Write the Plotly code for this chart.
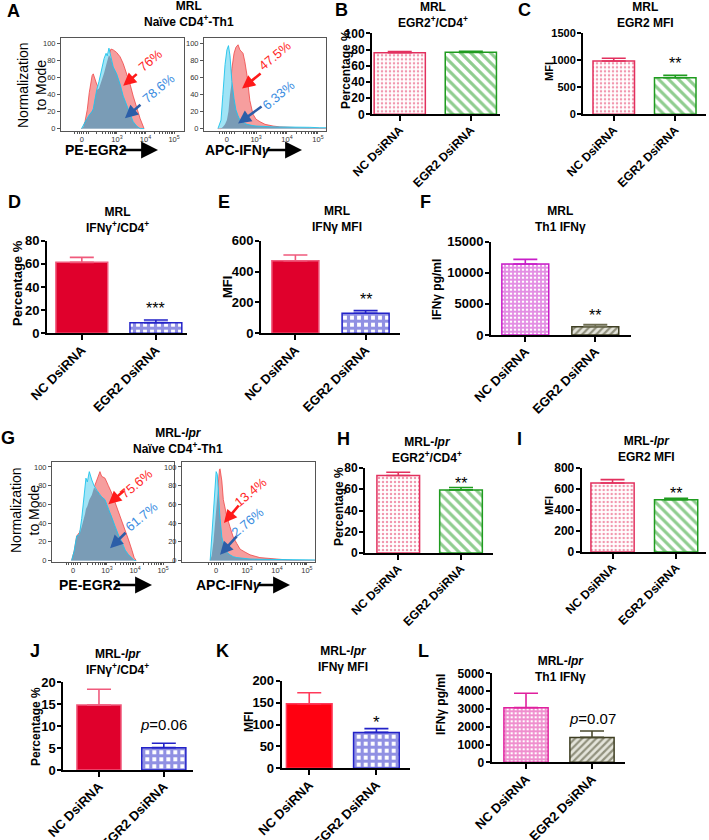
import numpy as np
import plotly.graph_objects as go

W, H = 709, 840

groups = ["NC DsiRNA", "EGR2 DsiRNA"]

# ---------------- bar data (mean, upper error) ----------------
b_mean = [76.1, 76.5];   b_err = [1.3, 1.3]
c_mean = [988, 679];     c_err = [49, 43]
d_mean = [61.3, 9.2];    d_err = [4.3, 2.3]
e_mean = [470, 130];     e_err = [37, 17]
f_mean = [11410, 1340];  f_err = [750, 320]
h_mean = [73.0, 59.4];   h_err = [3.0, 2.3]
i_mean = [657, 498];     i_err = [32, 13]
j_mean = [14.8, 5.1];    j_err = [3.6, 1.0]
k_mean = [147.5, 82.0];  k_err = [25, 8.5]
l_mean = [3070, 1400];   l_err = [810, 360]

# ---------------- flow histograms (display units, % of mode) ----------------
a_egr2_x = [1.76, 1.82, 1.88, 1.96, 2.03, 2.08, 2.13, 2.17, 2.23, 2.29, 2.37, 2.46, 2.55, 2.62,
            2.66, 2.72, 2.79, 2.87, 2.99, 3.11, 3.22, 3.34, 3.46, 3.57, 3.69, 3.81, 3.95]
a_egr2_nc = [0, 2, 8, 22, 42, 55, 62, 64, 58, 52, 47, 55, 65, 74, 80, 86, 93, 92, 89, 84, 76, 64,
             52, 38, 25, 12, 0]
a_egr2_kd = [0, 4, 8, 12, 16, 18, 20, 23, 35, 45, 55, 70, 82, 88, 85, 94, 82, 72, 64, 52, 38, 28,
             18, 8, 3, 0, 0]

a_ifng_x = [1.77, 1.87, 1.93, 2.00, 2.06, 2.11, 2.16, 2.22, 2.29, 2.35, 2.42, 2.48, 2.58, 2.64,
            2.71, 2.80, 2.90, 3.00, 3.13, 3.29, 3.55, 3.77, 4.09, 4.42, 4.74, 5.06, 5.26]
a_ifng_nc = [0, 0, 2, 5, 10, 20, 40, 70, 88, 95, 98, 92, 88, 78, 62, 33, 17, 11, 8, 5, 3, 2, 1.5,
             1, 0.5, 0.3, 0]
a_ifng_kd = [0, 10, 40, 75, 92, 97, 85, 55, 35, 22, 15, 10, 8, 6, 5, 4, 3.5, 3, 3, 2.5, 2, 2, 2,
             1.5, 1.5, 1, 1]

g_egr2_x = [1.74, 1.83, 1.92, 2.02, 2.10, 2.16, 2.22, 2.25, 2.30, 2.37, 2.46, 2.54, 2.64, 2.71,
            2.75, 2.81, 2.93, 3.05, 3.17, 3.29, 3.41, 3.53, 3.65, 3.77, 3.89, 3.97, 4.04]
g_egr2_nc = [0, 10, 26, 30, 36, 42, 50, 55, 58, 65, 70, 78, 86, 92, 95, 90, 88, 80, 72, 62, 52,
             44, 34, 22, 11, 3, 0]
g_egr2_kd = [0, 10, 26, 28, 45, 65, 82, 88, 84, 95, 86, 80, 75, 72, 70, 68, 65, 55, 47, 36, 27,
             20, 11, 6, 2, 0, 0]

g_ifng_x = [1.77, 1.82, 1.88, 1.93, 1.97, 2.01, 2.04, 2.08, 2.10, 2.16, 2.21, 2.27, 2.32, 2.43,
            2.54, 2.66, 2.77, 2.93, 3.10, 3.43, 3.87, 4.20, 4.53, 4.93, 5.27]
g_ifng_nc = [0, 5, 20, 40, 55, 75, 90, 97, 98, 85, 65, 55, 48, 36, 25, 18, 12, 9, 6, 3, 1.5, 0.5,
             0, 0, 0]
g_ifng_kd = [0, 25, 60, 85, 95, 92, 80, 55, 45, 25, 18, 12, 9, 6, 4, 3, 2.5, 2, 1.5, 1.2, 1, 1, 1,
             0.5, 0.5]

hist_ticktext = ["0", "10<sup>3</sup>", "10<sup>4</sup>", "10<sup>5</sup>"]

FONT = "Arial, Liberation Sans, sans-serif"
RED_FILL = "rgb(246,158,158)"
RED_LINE = "rgb(240,70,70)"
CYAN_FILL = "rgb(160,228,246)"
CYAN_LINE = "rgb(30,195,235)"
OV_FILL = "rgb(122,156,182)"
PCT_RED = "#ff2626"
PCT_BLUE = "#3b8ddf"
ARR_RED = "#ff1a1a"
ARR_BLUE = "#2c5ea8"

fig = go.Figure()
layout = dict(width=W, height=H, margin=dict(l=0, r=0, t=0, b=0, pad=0, autoexpand=False),
              paper_bgcolor="white", plot_bgcolor="white", showlegend=False,
              barmode="overlay", font=dict(family=FONT, color="black"))
annotations = []
counter = [0]


def xdom(a, b):
    return [a / W, b / W]


def ydom(top, bot):
    return [1 - bot / H, 1 - top / H]


def new_axes():
    counter[0] += 1
    n = counter[0]
    s = "" if n == 1 else str(n)
    return "xaxis" + s, "yaxis" + s, "x" + s, "y" + s


def text(xp, yp, s, size, bold=True, angle=0, xanchor="center", color="black"):
    annotations.append(dict(x=xp / W, y=1 - yp / H, xref="paper", yref="paper", text=s,
                            showarrow=False, textangle=angle, xanchor=xanchor, yanchor="middle",
                            borderpad=0,
                            font=dict(size=size, family=FONT, color=color,
                                      weight="bold" if bold else "normal")))


def label_arrow(x0, x1, yp):
    annotations.append(dict(x=x1 / W, y=1 - yp / H, xref="paper", yref="paper", text="",
                            showarrow=True, ax=x0 - x1, ay=0, axref="pixel", ayref="pixel",
                            arrowhead=2, arrowsize=1.3, arrowwidth=2.6, arrowcolor="black",
                            standoff=0, startstandoff=0))


def histogram(xp, yp, xr, yr, zero, xs, nc, kd, pcts):
    xa, ya, xref, yref = new_axes()
    nc = np.array(nc, dtype=float)
    kd = np.array(kd, dtype=float)
    ov = np.minimum(nc, kd)
    fig.add_trace(go.Scatter(x=xs, y=nc, mode="lines", fill="tozeroy", fillcolor=RED_FILL,
                             line=dict(color=RED_LINE, width=0.8), xaxis=xref, yaxis=yref,
                             hoverinfo="skip"))
    fig.add_trace(go.Scatter(x=xs, y=kd, mode="lines", fill="tozeroy", fillcolor=CYAN_FILL,
                             line=dict(width=0), xaxis=xref, yaxis=yref, hoverinfo="skip"))
    fig.add_trace(go.Scatter(x=xs, y=ov, mode="lines", fill="tozeroy", fillcolor=OV_FILL,
                             line=dict(width=0), xaxis=xref, yaxis=yref, hoverinfo="skip"))
    fig.add_trace(go.Scatter(x=xs, y=kd, mode="lines", line=dict(color=CYAN_LINE, width=0.9),
                             xaxis=xref, yaxis=yref, hoverinfo="skip"))
    minor = [zero - 0.25, zero - 0.15, zero - 0.07, zero + 0.07, zero + 0.15, zero + 0.25]
    for dec in (2, 3, 4):
        for k in range(2, 10):
            v = dec + np.log10(k)
            if v > zero + 0.45 and v < xr[1]:
                minor.append(float(v))
    layout[xa] = dict(domain=xdom(*xp), range=xr, anchor=yref, showline=True, mirror=True,
                      linecolor="#555", linewidth=1, ticks="outside", ticklen=2, tickcolor="#555",
                      tickvals=[zero, 3, 4, 5], ticktext=hist_ticktext, ticklabelstandoff=-1,
                      tickfont=dict(size=7.5, color="#333", family=FONT),
                      minor=dict(tickvals=minor, ticklen=2, tickcolor="#555", ticks="outside"),
                      showgrid=False, zeroline=False, automargin=False)
    layout[ya] = dict(domain=ydom(*yp), range=yr, anchor=xref, showline=True, mirror=True,
                      linecolor="#555", linewidth=1, ticks="outside", ticklen=3, tickcolor="#555",
                      tickvals=[0, 20, 40, 60, 80, 100],
                      tickfont=dict(size=7.5, color="#333", family=FONT),
                      showgrid=False, zeroline=False, automargin=False)
    for (s, col, acol, tx, ty, hx, hy, ox, oy) in pcts:
        annotations.append(dict(x=tx, y=ty, xref=xref, yref=yref, text=s, showarrow=False,
                                textangle=-40, font=dict(size=13, color=col, family=FONT)))
        annotations.append(dict(x=hx, y=hy, xref=xref, yref=yref, text="", showarrow=True,
                                ax=ox, ay=oy, axref="pixel", ayref="pixel", arrowhead=2,
                                arrowsize=1.0, arrowwidth=2.6, arrowcolor=acol, standoff=0))


def bar_panel(xp, yp, xr, ymax, dtick, means, errs, styles, errcolors, width, tsize, xsize,
              mark=None):
    xa, ya, xref, yref = new_axes()
    for i in range(2):
        fig.add_trace(go.Bar(x=[i], y=[means[i]], width=width, marker=styles[i],
                             error_y=dict(type="data", symmetric=False, array=[errs[i]],
                                          arrayminus=[0], color=errcolors[i], thickness=1.6,
                                          width=12),
                             xaxis=xref, yaxis=yref, hoverinfo="skip"))
    layout[xa] = dict(domain=xdom(*xp), range=xr, anchor=yref, showline=True, linecolor="black",
                      linewidth=2, ticks="outside", ticklen=5, tickwidth=1.5, tickcolor="black",
                      tickvals=[0, 1], ticktext=groups, tickangle=-45, ticklabelstandoff=-3,
                      tickfont=dict(size=xsize, family=FONT, weight="bold"),
                      showgrid=False, zeroline=False, automargin=False)
    layout[ya] = dict(domain=ydom(*yp), range=[0, ymax], anchor=xref, showline=True,
                      linecolor="black", linewidth=2, ticks="outside", ticklen=4, tickwidth=2,
                      tickcolor="black", dtick=dtick, tickformat="d", ticklabelstandoff=-1,
                      tickfont=dict(size=tsize, family=FONT, weight="bold"),
                      showgrid=False, zeroline=False, automargin=False)
    if mark:
        s, yv, fs, ysh = mark
        annotations.append(dict(x=1, y=yv, xref=xref, yref=yref, text=s, showarrow=False,
                                yshift=ysh, font=dict(size=fs, family=FONT, color="black")))


def dots(c):
    return dict(color="white", line=dict(color=c, width=1.5),
                pattern=dict(shape=".", fgcolor=c, bgcolor="white", size=4, solidity=0.3))


def hatch(c, shape="\\", bg="white", size=7, sol=0.45):
    return dict(color=bg, line=dict(color=c, width=1.5),
                pattern=dict(shape=shape, fgcolor=c, bgcolor=bg, size=size, solidity=sol))


def solid(c, lc):
    return dict(color=c, line=dict(color=lc, width=1.5))


def checks(c, size, sol=0.7):
    return dict(color="white", line=dict(color=c, width=1.5),
                pattern=dict(shape="+", fgcolor=c, bgcolor="white", size=size, solidity=sol))


PINK = "#e2305e"
GREEN = "#1f9c1f"
CRIMSON = "#e0002c"
CRIM_LINE = "#f05a7c"
BLUE = "#2222c8"
MAGENTA = "#c81ec8"
MAGENTA2 = "#e0209e"
OLIVE = "#3e3e22"

# ---------------- histograms ----------------
histogram((61, 184), (38, 131), [1.04, 5.35], [-2.8, 105.9], 1.77, a_egr2_x, a_egr2_nc, a_egr2_kd,
          [("76%", PCT_RED, ARR_RED, 4.16, 80, 3.22, 50, 15, -13),
           ("78.6%", PCT_BLUE, ARR_BLUE, 4.45, 47, 3.28, 12, 17, -15)])
histogram((204, 326), (38, 131), [1.32, 5.26], [-2.8, 105.9], 2.06, a_ifng_x, a_ifng_nc, a_ifng_kd,
          [("47.5%", PCT_RED, ARR_RED, 3.61, 86, 2.55, 47, 20, -16),
           ("6.33%", PCT_BLUE, ARR_BLUE, 3.71, 39, 2.42, 6, 25, -18)])
histogram((52, 174), (462, 562), [1.04, 5.39], [-1.7, 105.3], 1.79, g_egr2_x, g_egr2_nc, g_egr2_kd,
          [("75.6%", PCT_RED, ARR_RED, 4.06, 82, 3.05, 60, 17, -15),
           ("61.7%", PCT_BLUE, ARR_BLUE, 4.24, 47, 3.11, 13, 17, -17)])
histogram((182, 315), (462, 562), [0.83, 5.27], [-1.7, 105.3], 1.97, g_ifng_x, g_ifng_nc, g_ifng_kd,
          [("13.4%", PCT_RED, ARR_RED, 3.1, 73, 2.23, 40, 16, -19),
           ("2.76%", PCT_BLUE, ARR_BLUE, 3.0, 41, 2.1, 6, 18, -20)])

# ---------------- bar panels ----------------
bar_panel((372, 500), (33.3, 114.3), [-0.39, 1.41], 100, 20, b_mean, b_err,
          [dots(PINK), hatch(GREEN)], [PINK, GREEN], 0.72, 12, 12)
bar_panel((583, 706), (33.3, 114.3), [-0.5, 1.5], 1500, 500, c_mean, c_err,
          [dots(PINK), hatch(GREEN)], [PINK, GREEN], 0.675, 11, 12, ("**", 1006, 16, -4))
bar_panel((47, 187), (240.7, 333.3), [-0.47, 1.42], 80, 20, d_mean, d_err,
          [solid(CRIMSON, CRIM_LINE), checks(BLUE, 7)], [CRIM_LINE, BLUE], 0.7, 13, 13,
          ("***", 24.5, 16, -4))
bar_panel((261, 400), (240.7, 333.3), [-0.49, 1.49], 600, 200, e_mean, e_err,
          [solid(CRIMSON, CRIM_LINE), checks(BLUE, 7)], [CRIM_LINE, BLUE], 0.67, 13, 13,
          ("**", 248, 16, -4))
bar_panel((491, 631), (241.7, 335), [-0.49, 1.51], 15000, 5000, f_mean, f_err,
          [checks(MAGENTA, 4), hatch(OLIVE, "/", "#e4e4da", 5, 0.45)], [MAGENTA, "#6c6c50"],
          0.67, 13, 13, ("**", 3750, 16, -4))
bar_panel((365, 493), (468, 553), [-0.53, 1.51], 80, 20, h_mean, h_err,
          [dots(PINK), hatch(GREEN)], [PINK, GREEN], 0.68, 12, 12, ("**", 69, 16, -4))
bar_panel((581.7, 706), (468, 552), [-0.485, 1.47], 800, 200, i_mean, i_err,
          [dots(PINK), hatch(GREEN)], [PINK, GREEN], 0.68, 12, 12, ("**", 600, 16, -4))
bar_panel((63.3, 193), (682.3, 770), [-0.55, 1.45], 20, 5, j_mean, j_err,
          [solid(CRIMSON, CRIM_LINE), checks(BLUE, 7)], [CRIM_LINE, BLUE], 0.68, 13, 13,
          ("<i>p</i>=0.06", 10.3, 15, 0))
bar_panel((281.7, 410), (680.7, 768.3), [-0.41, 1.5], 200, 50, k_mean, k_err,
          [solid("#ff0010", "#ff3a5a"), checks(BLUE, 7)], ["#ff3a5a", BLUE], 0.68, 13, 13,
          ("*", 114, 17, -4))
bar_panel((491.7, 625), (673.3, 762.3), [-0.52, 1.5], 5000, 1000, l_mean, l_err,
          [checks(MAGENTA2, 4), hatch(OLIVE, "/", "#e4e4da", 5, 0.45)], [MAGENTA2, "#4a4a2e"],
          0.67, 12, 13, ("<i>p</i>=0.07", 2470, 15, 0))

# ---------------- panel letters ----------------
for (lt, x, y) in [("A", 13, 11), ("B", 341, 10), ("C", 524, 10), ("D", 14, 202),
                   ("E", 224, 202), ("F", 426, 202), ("G", 8, 438), ("H", 343, 439),
                   ("I", 519, 439), ("J", 35, 651), ("K", 222, 651), ("L", 424, 651)]:
    text(x, y, lt, 18)

# ---------------- titles ----------------
for (s, x, y) in [("MRL<br>Naïve CD4<sup>+</sup>-Th1", 189, 14),
                  ("MRL<br>EGR2<sup>+</sup>/CD4<sup>+</sup>", 433, 15),
                  ("MRL<br>EGR2 MFI", 645, 15),
                  ("MRL<br>IFNγ<sup>+</sup>/CD4<sup>+</sup>", 117, 220),
                  ("MRL<br>IFNγ MFI", 337, 219),
                  ("MRL<br>Th1 IFNγ", 560, 219),
                  ("MRL-<i>lpr</i><br>Naïve CD4<sup>+</sup>-Th1", 178, 441),
                  ("MRL-<i>lpr</i><br>EGR2<sup>+</sup>/CD4<sup>+</sup>", 427, 450),
                  ("MRL-<i>lpr</i><br>EGR2 MFI", 646, 449),
                  ("MRL-<i>lpr</i><br>IFNγ<sup>+</sup>/CD4<sup>+</sup>", 117, 662),
                  ("MRL-<i>lpr</i><br>IFNγ MFI", 343, 659),
                  ("MRL-<i>lpr</i><br>Th1 IFNγ", 560, 669)]:
    text(x, y, s, 12)

# ---------------- y-axis titles ----------------
text(32, 85, "Normalization<br>to Mode", 14, bold=False, angle=-90)
text(25, 510, "Normalization<br>to Mode", 14, bold=False, angle=-90)
for (s, x, y, fs) in [("Percentage %", 346, 70, 12), ("MFI", 549, 72, 11),
                      ("Percentage %", 17, 283, 13), ("MFI", 227, 287, 13),
                      ("IFNγ pg/ml", 437, 290, 12), ("Percentage %", 339, 507, 12),
                      ("MFI", 549, 506, 11), ("Percentage %", 36, 727, 12),
                      ("MFI", 249, 722, 12), ("IFNγ pg/ml", 441, 705, 12)]:
    text(x, y, s, fs, angle=-90)

# ---------------- histogram x labels with arrows ----------------
text(64, 150, "PE-EGR2", 14, xanchor="left")
label_arrow(120, 158, 150)
text(204, 150, "APC-IFN<i>γ</i>", 14, xanchor="left")
label_arrow(265, 302, 150)
text(58, 585, "PE-EGR2", 14, xanchor="left")
label_arrow(114, 152, 585)
text(195, 585, "APC-IFN<i>γ</i>", 14, xanchor="left")
label_arrow(256, 290, 585)

layout["annotations"] = annotations
fig.update_layout(**layout)
fig.write_html("out.html", config={"displayModeBar": False},
               post_script="document.body.style.margin='0px';document.body.style.padding='0px';")
